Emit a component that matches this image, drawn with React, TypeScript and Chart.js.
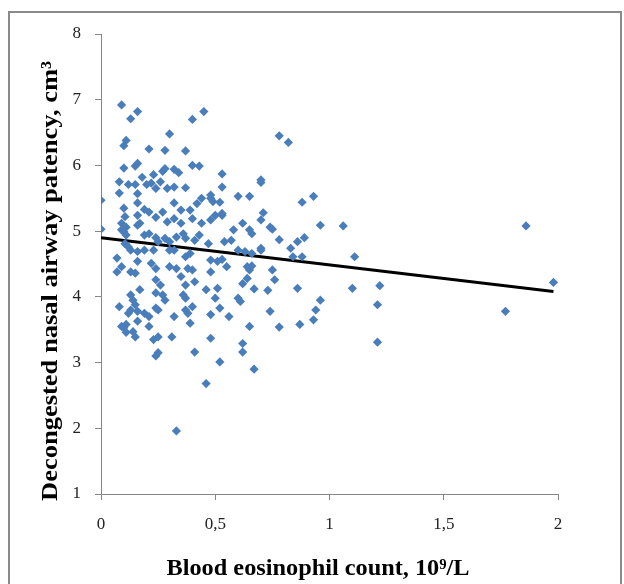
import React, { useEffect, useRef } from "react";
import { Chart, registerables } from "chart.js";

Chart.register(...registerables);

// Blood eosinophil count, 10^9/L
const eosinophil: number[] = [
  0.09, 0.16, 0.13, 0.45, 0.40, 0.30, 0.11, 0.10, 0.21, 0.28, 0.37, 0.10, 0.15, 0.16, 0.28, 0.32,
  0.34, 0.40, 0.43, 0.18, 0.23, 0.27, 0.08, 0.12, 0.15, 0.20, 0.22, 0.26, 0.24, 0.29, 0.32, 0.37,
  0.08, 0.16, 0.00, 0.10, 0.16, 0.32, 0.19, 0.21, 0.42, 0.44, 0.48, 0.49, 0.39, 0.35, 0.27,
  0.78, 0.82, 0.53, 0.53, 0.70, 0.70, 0.48, 0.52, 0.60, 0.65, 0.88, 0.93, 0.71, 0.53,
  0.00, 0.105, 0.09, 0.11, 0.09, 0.16, 0.24, 0.16, 0.17, 0.29, 0.32, 0.35, 0.40, 0.44, 0.48,
  0.10, 0.11, 0.19, 0.21, 0.24, 0.25, 0.28, 0.30, 0.33, 0.36, 0.37, 0.41, 0.43, 0.47,
  0.105, 0.12, 0.13, 0.16, 0.19, 0.23, 0.30, 0.32, 0.37, 0.39, 0.07, 0.16, 0.22, 0.24,
  0.09, 0.07, 0.13, 0.15, 0.30, 0.33, 0.38, 0.40, 0.48, 0.24, 0.26, 0.35, 0.37, 0.41, 0.46, 0.17,
  0.13, 0.14, 0.15, 0.13, 0.24, 0.27, 0.28, 0.36, 0.37, 0.40, 0.08, 0.12, 0.16, 0.19, 0.21,
  0.24, 0.25, 0.32, 0.37, 0.38, 0.16, 0.09, 0.11, 0.21, 0.39, 0.48,
  0.50, 0.53, 0.62, 0.70, 0.74, 0.75, 0.96, 0.58, 0.65, 0.66, 0.54, 0.57, 0.78, 0.86, 0.89,
  0.60, 0.63, 0.66, 0.70, 0.70, 0.83, 0.84, 0.88, 0.51, 0.53, 0.55, 0.64, 0.66, 0.65, 0.75,
  0.48, 0.76, 0.64, 0.62, 0.51, 0.67, 0.73, 0.86, 0.50, 0.60, 0.61, 0.96, 0.52, 0.74, 0.94,
  0.56, 0.93, 0.65, 0.78, 0.87,
  0.10, 0.11, 0.14, 0.15, 0.23, 0.25, 0.31, 0.48, 0.24, 0.25, 0.41, 0.46, 0.33,
  0.62, 0.62, 0.52, 0.67,
  1.06, 1.11, 1.10, 1.22, 1.21, 1.21, 1.86, 1.98, 1.77,
];

// Decongested nasal airway patency, cm3
const patency: number[] = [
  6.92, 6.82, 6.71, 6.82, 6.70, 6.48, 6.38, 6.30, 6.25, 6.23, 6.22, 5.96, 5.99, 6.03, 5.95, 5.94,
  5.89, 6.00, 5.99, 5.82, 5.86, 5.91, 5.75, 5.71, 5.71, 5.71, 5.73, 5.75, 5.65, 5.65, 5.67, 5.66,
  5.58, 5.57, 5.47, 5.35, 5.43, 5.43, 5.33, 5.29, 5.42, 5.50, 5.55, 5.45, 5.32, 5.32, 5.29,
  6.45, 6.35, 5.87, 5.67, 5.78, 5.74, 5.50, 5.44, 5.53, 5.53, 5.44, 5.53, 5.28, 5.27,
  5.03, 5.22, 5.12, 5.06, 5.02, 5.24, 5.21, 5.09, 5.12, 5.14, 5.19, 5.12, 5.19, 5.12, 5.17,
  4.99, 4.94, 4.94, 4.96, 4.90, 4.84, 4.89, 4.84, 4.91, 4.96, 4.89, 4.86, 4.94, 4.81,
  4.81, 4.76, 4.71, 4.69, 4.71, 4.71, 4.71, 4.71, 4.61, 4.66, 4.59, 4.54, 4.51, 4.43,
  4.46, 4.38, 4.38, 4.36, 4.46, 4.43, 4.43, 4.41, 4.56, 4.26, 4.18, 4.31, 4.18, 4.23, 4.11, 4.11,
  4.03, 3.95, 3.88, 3.80, 4.06, 4.03, 3.95, 4.03, 3.98, 3.85, 3.85, 3.75, 3.78, 3.75, 3.70,
  3.83, 3.80, 3.70, 3.80, 3.75, 3.63, 3.55, 3.58, 3.55, 3.60, 3.73,
  5.24, 5.24, 5.12, 5.17, 5.06, 5.03, 5.09, 5.02, 5.02, 4.96, 4.84, 4.86, 4.87, 4.84, 4.90,
  4.71, 4.69, 4.66, 4.71, 4.74, 4.74, 4.61, 4.61, 4.54, 4.57, 4.46, 4.46, 4.47, 4.41, 4.41,
  4.38, 4.26, 4.28, 4.20, 4.13, 4.12, 4.10, 4.13, 3.98, 3.98, 3.93, 3.95, 3.83, 3.78, 3.80,
  3.70, 3.65, 3.55, 3.54, 3.58,
  3.53, 3.46, 3.47, 3.39, 3.35, 3.39, 3.39, 3.37, 3.10, 3.15, 3.16, 2.68, 1.96,
  3.29, 3.16, 3.01, 2.90,
  5.08, 4.61, 4.13, 4.17, 3.88, 3.31, 5.08, 4.22, 3.78,
];

// Linear trend line end points
const trendX: number[] = [0, 1.98];
const trendY: number[] = [4.9, 4.08];

const xTitle = "Blood eosinophil count, 10\u2079/L";
const yTitle = "Decongested nasal airway patency, cm\u00B3";

const fmt = (v: number | string) => String(v).replace(".", ",");

function drawFitted(ctx: CanvasRenderingContext2D, text: string, targetWidth: number) {
  const w = ctx.measureText(text).width;
  const k = w > 0 ? targetWidth / w : 1;
  ctx.scale(k, 1);
  ctx.fillText(text, 0, 0);
}

export default function App() {
  const ref = useRef<HTMLCanvasElement | null>(null);

  useEffect(() => {
    const canvas = ref.current;
    if (!canvas) return;

    const framePlugin = {
      id: "frameAndTitles",
      beforeDraw(chart: any) {
        const ctx = chart.ctx;
        ctx.save();
        ctx.fillStyle = "#ffffff";
        ctx.fillRect(0, 0, chart.width, chart.height);
        ctx.strokeStyle = "#8a8a8a";
        ctx.lineWidth = 2;
        ctx.strokeRect(9, 12, 612, 590);
        ctx.restore();
      },
      afterDraw(chart: any) {
        const ctx = chart.ctx;
        ctx.fillStyle = "#000000";
        ctx.font = "bold 23px 'Liberation Serif', 'Times New Roman', serif";
        ctx.textAlign = "center";
        ctx.textBaseline = "alphabetic";

        ctx.save();
        ctx.translate(318, 575);
        drawFitted(ctx, xTitle, 303);
        ctx.restore();

        ctx.save();
        ctx.translate(57, 281);
        ctx.rotate(-Math.PI / 2);
        drawFitted(ctx, yTitle, 440);
        ctx.restore();
      },
    };

    const tickFont = { family: "'Liberation Serif', 'Times New Roman', serif", size: 17 };

    const chart = new Chart(canvas, {
      type: "scatter",
      data: {
        datasets: [
          {
            label: "Patients",
            data: eosinophil.map((x, i) => ({ x, y: patency[i] })),
            pointStyle: "rectRot",
            pointRadius: 4.6,
            backgroundColor: "#4A7EBB",
            borderColor: "#4A7EBB",
            borderWidth: 0,
          },
          {
            label: "Trend",
            type: "line",
            data: trendX.map((x, i) => ({ x, y: trendY[i] })),
            borderColor: "#000000",
            borderWidth: 3,
            pointRadius: 0,
            fill: false,
          } as any,
        ],
      },
      options: {
        animation: false,
        responsive: false,
        devicePixelRatio: 1,
        layout: { padding: { left: 0, top: 34, right: 66, bottom: 0 } },
        plugins: {
          legend: { display: false },
          tooltip: { enabled: false },
        },
        scales: {
          x: {
            type: "linear",
            min: 0,
            max: 2,
            afterFit: (s: any) => {
              s.height = 90;
            },
            ticks: {
              stepSize: 0.5,
              padding: 14,
              color: "#222",
              font: tickFont,
              callback: (v: any) => fmt(v),
            },
            grid: { drawOnChartArea: false, drawTicks: true, tickLength: 6, color: "#868686" },
            border: { color: "#868686", width: 1 },
          },
          y: {
            type: "linear",
            min: 1,
            max: 8,
            afterFit: (s: any) => {
              s.width = 101;
            },
            ticks: {
              stepSize: 1,
              padding: 14,
              color: "#222",
              font: tickFont,
              callback: (v: any) => fmt(v),
            },
            grid: { drawOnChartArea: false, drawTicks: true, tickLength: 6, color: "#868686" },
            border: { color: "#868686", width: 1 },
          },
        },
      },
      plugins: [framePlugin],
    });

    return () => chart.destroy();
  }, []);

  return (
    <div style={{ position: "fixed", left: 0, top: 0, width: 624, height: 584, background: "#fff" }}>
      <canvas ref={ref} width={624} height={584} style={{ width: 624, height: 584, display: "block" }} />
    </div>
  );
}
